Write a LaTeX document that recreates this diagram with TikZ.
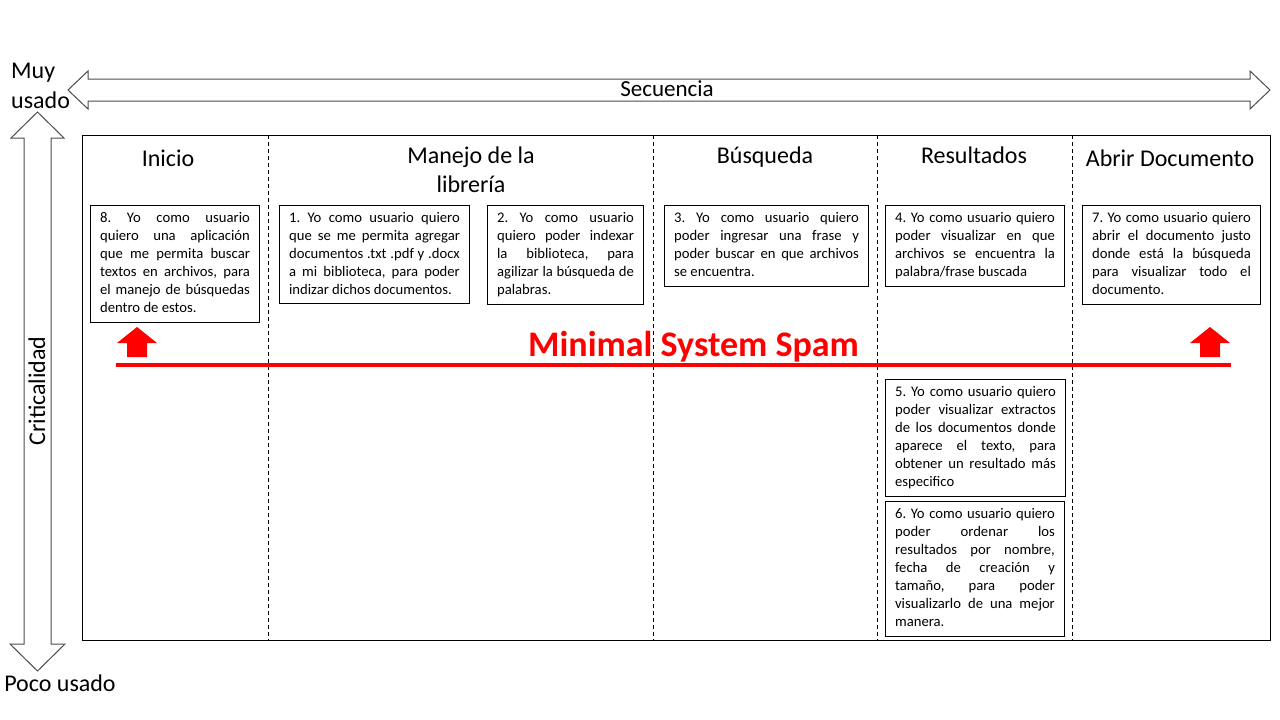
\documentclass[tikz,border=0pt]{standalone}
\usepackage{fontspec}
\setmainfont{Carlito}
\usetikzlibrary{positioning}

\frenchspacing
\hyphenpenalty=10000
\exhyphenpenalty=10000
\tolerance=3000
\emergencystretch=4pt

\newcommand{\storyfont}{\fontsize{14.67}{17.9}\selectfont}
\newcommand{\headfont}{\fontsize{24}{29.3}\selectfont}
\newcommand{\userstory}[1]{\strut#1\strut}

\begin{document}
\begin{tikzpicture}[x=1pt, y=-1pt,
  story/.style={draw, line width=1pt, anchor=north west, align=justify,
    inner xsep=9.6pt, inner ysep=4.8pt, font=\storyfont},
  head/.style={align=center, inner sep=0pt, font=\headfont},
  sidelabel/.style={inner sep=0pt, font=\headfont},
  bigarrow/.style={draw=black!70, line width=1pt, fill=white, line join=miter},
  spamarrow/.style={fill=red, draw=none},
  column/.style={line width=0.75pt, dash pattern=on 4pt off 3pt}]
  \useasboundingbox (0,0) rectangle (1280,720);

  % axis arrows
  \draw[bigarrow] (68,90) -- (88,71) -- (88,79) -- (1250,79) -- (1250,71) -- (1270,90)
    -- (1250,109) -- (1250,101) -- (88,101) -- (88,109) -- cycle;
  \draw[bigarrow] (37.5,112) -- (64,138) -- (51,138) -- (51,644) -- (65,644) -- (37.5,671)
    -- (10,644) -- (24,644) -- (24,138) -- (11,138) -- cycle;
  \node[inner sep=0pt, font=\fontsize{23}{27}\selectfont] (secuencia) at (667,89) {Secuencia};
  \node[sidelabel, align=left, anchor=west] (muy) at (11,86) {Muy\\usado};
  \node[sidelabel] (poco) at (60,683) {Poco usado};
  \node[sidelabel, rotate=90] (critica) at (37,391) {Criticalidad};

  % frame and columns
  \draw[line width=1pt] (82,135) rectangle (1270,640);
  \foreach \cx in {268,653,877,1072}
    \draw[column] (\cx,135) -- (\cx,640);

  % column titles
  \node[head] (inicio) at (168,158) {Inicio};
  \node[head] (manejo) at (471,169.5) {Manejo de la\\librería};
  \node[head] (busqueda) at (765,157.5) {Búsqueda};
  \node[head] (resultados) at (974,155) {Resultados};
  \node[head] (abrir) at (1170,158) {Abrir Documento};

  % user stories
  \node[story, text width=149.8pt] (us8) at (90,205)
    {\userstory{8. Yo como usuario quiero una aplicación que me permita buscar textos en archivos, para el manejo de búsquedas dentro de estos.}};
  \node[story, text width=170.8pt, text depth=76pt] (us1) at (279,205)
    {\userstory{1. Yo como usuario quiero que se me permita agregar documentos .txt .pdf y .docx a mi biblioteca, para poder indizar dichos documentos.}};
  \node[story, text width=136.8pt] (us2) at (487,205)
    {\userstory{2. Yo como usuario quiero poder indexar la biblioteca, para agilizar la búsqueda de palabras.}};
  \node[story, text width=184.8pt] (us3) at (664,205)
    {\userstory{3. Yo como usuario quiero poder ingresar una frase y poder buscar en que archivos se encuentra.}};
  \node[story, text width=159.8pt] (us4) at (885,205)
    {\userstory{4. Yo como usuario quiero poder visualizar en que archivos se encuentra la palabra/frase buscada}};
  \node[story, text width=158.8pt] (us7) at (1082,205)
    {\userstory{7. Yo como usuario quiero abrir el documento justo donde está la búsqueda para visualizar todo el documento.}};
  \node[story, text width=160.8pt] (us5) at (885,379)
    {\userstory{5. Yo como usuario quiero poder visualizar extractos de los documentos donde aparece el texto, para obtener un resultado más especifico}};
  \node[story, text width=159.8pt] (us6) at (885,501)
    {\userstory{6. Yo como usuario quiero\linebreak poder ordenar los resultados por nombre, fecha de creación y tamaño, para poder visualizarlo de una mejor manera.}};

  % minimal system span
  \draw[red, line width=3.5pt] (116,365) -- (1231,365);
  \foreach \ax in {137,1210}
    \fill[spamarrow] (\ax,327) -- (\ax+20,343) -- (\ax+10,343) -- (\ax+10,357)
      -- (\ax-10,357) -- (\ax-10,343) -- (\ax-20,343) -- cycle;
  \node[anchor=base, inner sep=0pt, text=red, font=\fontsize{36}{40}\selectfont\bfseries] (spam) at (693.5,356) {Minimal System Spam};
\end{tikzpicture}
\end{document}
